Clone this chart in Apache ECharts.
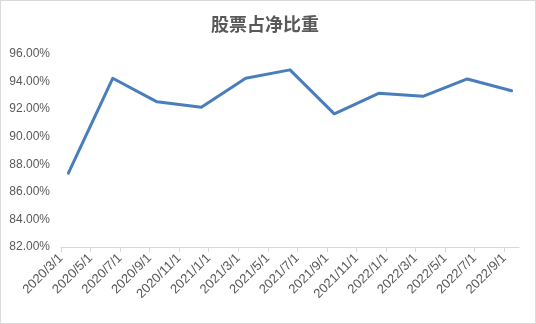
<!DOCTYPE html>
<html>
<head>
<meta charset="utf-8">
<script src="https://cdn.jsdelivr.net/npm/echarts@6/dist/echarts.min.js"></script>
<style>
html,body{margin:0;padding:0;background:#fff;}
#frame{width:536px;height:324px;box-sizing:border-box;border:1px solid #d9d9d9;position:relative;overflow:hidden;}
#chart{position:absolute;left:-1px;top:-1px;width:536px;height:324px;}
</style>
</head>
<body>
<div id="frame"><div id="chart"></div></div>
<script>
// ---- data ----
const titleText = '股票占净比重';
const tickLabels = ['2020/3/1','2020/5/1','2020/7/1','2020/9/1','2020/11/1','2021/1/1','2021/3/1','2021/5/1',
  '2021/7/1','2021/9/1','2021/11/1','2022/1/1','2022/3/1','2022/5/1','2022/7/1','2022/9/1'];
const dates = ['2020/3/31','2020/6/30','2020/9/30','2020/12/31','2021/3/31','2021/6/30','2021/9/30','2021/12/31',
  '2022/3/31','2022/6/30','2022/9/30'];
const values = [87.36, 94.24, 92.53, 92.14, 94.24, 94.85, 91.66, 93.15, 92.93, 94.19, 93.33];
const yMin = 82, yMax = 96, yStep = 2;

// month index relative to first tick (Excel date axis, base unit = months)
function monthIndex(s){
  const p = s.split('/').map(Number);
  const b = tickLabels[0].split('/').map(Number);
  return (p[0]-b[0])*12 + (p[1]-b[1]);
}
const tickPos = tickLabels.map(monthIndex);
const labelMap = {};
tickLabels.forEach((l,i)=>{ labelMap[tickPos[i]] = l; });
const seriesData = dates.map((d,i)=>[monthIndex(d)+0.5, values[i]]);
const xMax = tickPos[tickPos.length-1] + 1;

const chart = echarts.init(document.getElementById('chart'), null, {renderer:'canvas'});
chart.setOption({
  backgroundColor:'#fff',
  animation:false,
  title:{
    text:titleText, left:206, top:10,
    textStyle:{fontFamily:'"Noto Sans CJK SC"', fontSize:18, fontWeight:'bold', color:'#595959'}
  },
  grid:{left:61, right:17, top:54, bottom:77, containLabel:false},
  xAxis:{
    type:'value', min:0, max:xMax,
    axisLine:{show:true, lineStyle:{color:'#d9d9d9', width:1}},
    axisTick:{show:true, customValues:tickPos, length:5, lineStyle:{color:'#d9d9d9'}},
    splitLine:{show:false},
    axisLabel:{
      customValues:tickPos, rotate:45, margin:9,
      fontFamily:'"Liberation Sans", Arial, sans-serif', fontSize:13, color:'#595959',
      formatter:(v)=>labelMap[v] || ''
    }
  },
  yAxis:{
    type:'value', min:yMin, max:yMax, interval:yStep,
    axisLine:{show:false}, axisTick:{show:false}, splitLine:{show:false},
    axisLabel:{
      margin:11, fontFamily:'"Liberation Sans", Arial, sans-serif', fontSize:12, color:'#595959',
      formatter:(v)=>v.toFixed(2)+'%'
    }
  },
  series:[{
    type:'line', data:seriesData, showSymbol:false, symbol:'none',
    lineStyle:{color:'#4a7ebb', width:3, join:'round', cap:'round'}
  }]
});
</script>
</body>
</html>
